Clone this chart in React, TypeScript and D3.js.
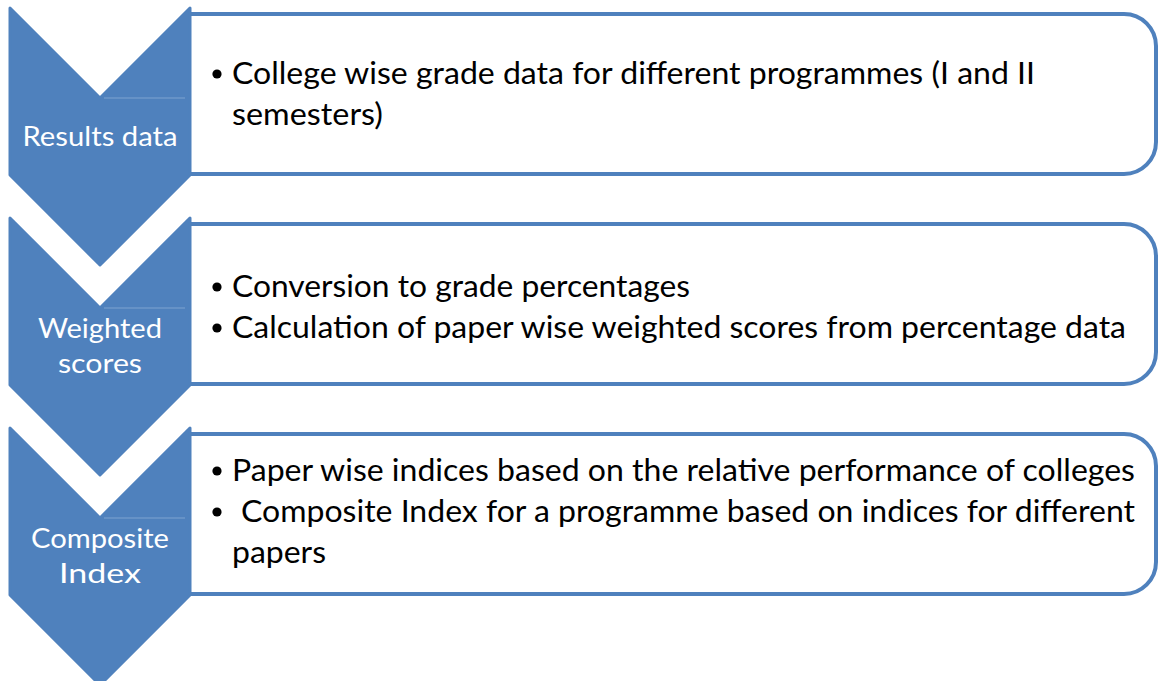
import React from 'react';
import * as d3 from 'd3';

// step labels shown in the chevrons
const stepLabels: string[][] = [['Results data'], ['Weighted', 'scores'], ['Composite', 'Index']];

// bullet lines per step (a line starting with '•' opens a new bullet)
const stepBullets: string[][] = [
  ['• College wise grade data for different programmes (I and II', 'semesters)'],
  ['• Conversion to grade percentages', '• Calculation of paper wise weighted scores from percentage data'],
  [
    '• Paper wise indices based on the relative performance of colleges',
    '•  Composite Index for a programme based on indices for different',
    'papers',
  ],
];

// measured text extents (px) used to match the original line widths
const bulletWidths: number[][] = [
  [803, 151],
  [458, 894],
  [903, 894, 94],
];
const labelWidths: number[][] = [[155], [124, 84], [138, 82]];

const W = 1158;
const H = 681;
const BLUE = '#4F81BD';

export default function App() {
  const rowY = d3.scaleLinear().domain([0, 1]).range([8, 218]);
  const chevX = d3.scaleLinear().domain([0, 1]).range([10, 190]);
  const depth = 90;
  const sideH = 167;

  const chevron = (top: number) => {
    const p = d3.path();
    p.moveTo(chevX(0), top);
    p.lineTo(chevX(0.5), top + depth);
    p.lineTo(chevX(1), top);
    p.lineTo(chevX(1), top + sideH);
    p.lineTo(chevX(0.5), top + sideH + depth);
    p.lineTo(chevX(0), top + sideH);
    p.closePath();
    return p.toString();
  };

  const box = (top: number) => {
    const x0 = 189, x1 = 1156, y0 = top + 6, y1 = top + 166, r = 32;
    const p = d3.path();
    p.moveTo(x0, y0);
    p.lineTo(x1 - r, y0);
    p.arcTo(x1, y0, x1, y0 + r, r);
    p.lineTo(x1, y1 - r);
    p.arcTo(x1, y1, x1 - r, y1, r);
    p.lineTo(x0, y1);
    return p.toString();
  };

  // baseline offsets from row top
  const bulletStart = [76, 79, 53];
  const lineGap = 41;

  return (
    <svg width={W} height={H} style={{ position: 'absolute', left: 0, top: 0, background: '#fff' }}>
      {stepLabels.map((lab, i) => {
        const top = rowY(i);
        const labBase = lab.length === 1 ? [138] : [120, 155];
        return (
          <g key={i}>
            <path d={box(top)} fill="#fff" stroke={BLUE} strokeWidth={4} strokeLinejoin="round" />
            <path d={chevron(top)} fill={BLUE} stroke={BLUE} strokeWidth={3} strokeLinejoin="round" />
            <line x1={104} x2={185} y1={top + 90} y2={top + 90} stroke="#7fa3d0" strokeWidth={1} />
            {lab.map((t, j) => (
              <text
                key={j}
                x={chevX(0.5)}
                y={top + labBase[j]}
                textAnchor="middle"
                fill="#fff"
                fontFamily="Lato, 'Open Sans', sans-serif"
                fontSize={26}
                textLength={labelWidths[i][j]}
                lengthAdjust="spacingAndGlyphs"
              >
                {t}
              </text>
            ))}
            {stepBullets[i].map((t, j) => {
              const isBullet = t.startsWith('•');
              const body = isBullet ? t.slice(1) : t;
              const y = top + bulletStart[i] + j * lineGap;
              const lead = body.startsWith('  ') ? 9 : 0;
              return (
                <g key={j}>
                  {isBullet && (
                    <circle cx={217} cy={y - 10} r={4.6} fill="#000" />
                  )}
                  <text
                    x={232 + lead}
                    y={y}
                    fill="#000"
                    fontFamily="Lato, 'Open Sans', sans-serif"
                    fontSize={30}
                    textLength={bulletWidths[i][j]}
                    lengthAdjust="spacingAndGlyphs"
                  >
                    {body.trim()}
                  </text>
                </g>
              );
            })}
          </g>
        );
      })}
    </svg>
  );
}
